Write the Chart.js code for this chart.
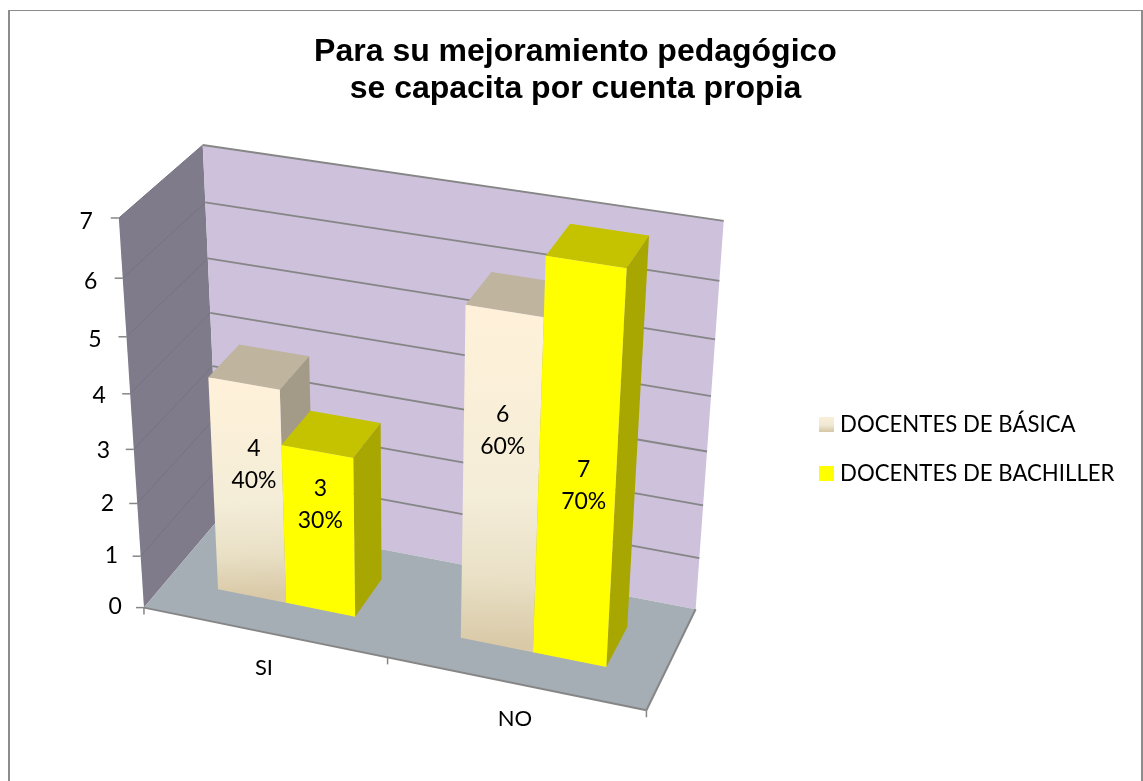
<!DOCTYPE html>
<html><head><meta charset="utf-8">
<style>html,body{margin:0;padding:0;background:#fff;overflow:hidden}
#frame{position:absolute;left:8px;top:10px;width:1135px;height:771px;box-sizing:border-box;border-left:2px solid #8c8c8c;border-top:1px solid #8c8c8c;border-right:2px solid #8c8c8c}
canvas{position:absolute;left:10px;top:11px}</style>
<script src="https://cdn.jsdelivr.net/npm/chart.js@4"></script>
</head><body><div id="frame"></div><canvas id="c" width="1131" height="770"></canvas>
<script>
const categories=['SI','NO'];
const seriesBasica=[4,6];
const seriesBachiller=[3,7];
const percentBasica=[40,60];
const percentBachiller=[30,70];
const seriesNames=['DOCENTES DE BÁSICA','DOCENTES DE BACHILLER'];
const valueTicks=[0,1,2,3,4,5,6,7];
const titleLines=['Para su mejoramiento pedagógico','se capacita por cuenta propia'];

const OX=10,OY=11;
// camera calibration of the 3D box: [u,v,w,pageX,pageY]
const calib=[[0,0,0,147,605],[1,0,0,647,713],[0.5,0,0,387,657],[0,0,1,216,523],[1,0,1,696,607],
[0,1,1,203,145],[1,1,1,724,221],[0,1,0,117,219],[0,6/7,0,122,279],[0,3/7,0,133,448],
[0,6/7,1,206,202],[0,5/7,1,209,257],[0,4/7,1,212,312],
[1,6/7,1,719,281],[1,5/7,1,715,340],[1,4/7,1,711,397],[1,3/7,1,707,452],[1,2/7,1,703,504],[1,1/7,1,699,557]];
function solveCamera(){
  const n=11,A=Array.from({length:n},()=>new Array(n+1).fill(0));
  const add=(r,t)=>{for(let i=0;i<n;i++){for(let j=0;j<n;j++)A[i][j]+=r[i]*r[j];A[i][n]+=r[i]*t;}};
  for(const [u,v,w,x0,y0] of calib){const x=x0/1000,y=y0/1000;
    add([1,u,v,w,0,0,0,0,-x*u,-x*v,-x*w],x);
    add([0,0,0,0,1,u,v,w,-y*u,-y*v,-y*w],y);}
  for(let c=0;c<n;c++){let p=c;for(let r=c+1;r<n;r++)if(Math.abs(A[r][c])>Math.abs(A[p][c]))p=r;
    [A[c],A[p]]=[A[p],A[c]];
    for(let r=0;r<n;r++){if(r===c)continue;const f=A[r][c]/A[c][c];for(let k=c;k<=n;k++)A[r][k]-=f*A[c][k];}}
  return A.map((row,i)=>row[n]/row[i]);
}
const K=solveCamera();
function P(u,v,w){const d=1+K[8]*u+K[9]*v+K[10]*w;
  return [1000*(K[0]+K[1]*u+K[2]*v+K[3]*w)/d-OX,1000*(K[4]+K[5]*u+K[6]*v+K[7]*w)/d-OY];}

const W0=0.305,W1=0.705;
const FONT='Lato',FS=22,FS_NUM=23,FS_LEG=22.2;
const labelHeightFraction=[[.63,.66],[.67,.46]];
const labelShiftX=[[7,1],[2,7]];
function quad(ctx,pts,fill){ctx.beginPath();pts.forEach((p,i)=>i?ctx.lineTo(p[0],p[1]):ctx.moveTo(p[0],p[1]));ctx.closePath();ctx.fillStyle=fill;ctx.fill();}
function line(ctx,a,b,col,lw){ctx.beginPath();ctx.moveTo(a[0],a[1]);ctx.lineTo(b[0],b[1]);ctx.strokeStyle=col;ctx.lineWidth=lw;ctx.stroke();}

const faces=[{top:'#BFB49E',side:'#A39B87'},{top:'#C5C300',side:'#A8A600'}];
const percents=[percentBasica,percentBachiller];
const scene={id:'scene',
 afterLayout(chart){const l=chart.legend;const cy=449-OY;const h=l.bottom-l.top;l.top=cy-h/2;l.bottom=cy+h/2;
   const w=l.right-l.left;const left=824-OX-chart.options.plugins.legend.labels.padding;l.left=left;l.right=left+w;},
 beforeDatasetsDraw(chart){
  const ctx=chart.ctx,a=chart.chartArea,sy=chart.scales.y,sx=chart.scales.x;
  quad(ctx,[P(0,0,0),P(0,1,0),P(0,1,1),P(0,0,1)],'#7F7B8B');
  quad(ctx,[P(0,0,1),P(0,1,1),P(1,1,1),P(1,0,1)],'#CDC1DB');
  quad(ctx,[P(0,0,0),P(1,0,0),P(1,0,1),P(0,0,1)],'#A6AEB5');
  ctx.textBaseline='middle';
  sy.ticks.forEach(t=>{const v=(a.bottom-sy.getPixelForValue(t.value))/a.height;
    if(t.value>0){line(ctx,P(0,v,0),P(0,v,1),'#767380',1);line(ctx,P(0,v,1),P(1,v,1),'#868686',1.8);}
    const p=P(0,v,0);line(ctx,p,[p[0]-8,p[1]],'#868686',1.5);
    ctx.fillStyle='#000';ctx.font=FS_NUM+'px '+FONT;ctx.textAlign='right';ctx.fillText(String(t.value),p[0]-22-4*v,p[1]-1+5*v);});
  line(ctx,P(0,0,0),P(1,0,0),'#868686',2);
  line(ctx,P(1,0,0),P(1,0,1),'#868686',2);
  [0,.5,1].forEach(u=>{const p=P(u,0,0);line(ctx,p,[p[0],p[1]+7],'#868686',1.5);});
  categories.forEach((c,i)=>{const u=(sx.getPixelForValue(i)-a.left)/a.width;const p=P(u,0,0);
    ctx.fillStyle='#000';ctx.font=FS+'px '+FONT;ctx.textAlign='center';ctx.fillText(c,p[0],p[1]+36);});
  chart.data.datasets.forEach((ds,di)=>{
   chart.getDatasetMeta(di).data.forEach((bar,j)=>{
    const u0=(bar.x-bar.width/2-a.left)/a.width,u1=(bar.x+bar.width/2-a.left)/a.width,v=(a.bottom-bar.y)/a.height;
    quad(ctx,[P(u0,v,W0),P(u1,v,W0),P(u1,v,W1),P(u0,v,W1)],faces[di].top);
    quad(ctx,[P(u1,0,W0),P(u1,v,W0),P(u1,v,W1),P(u1,0,W1)],faces[di].side);
    let fill=ds.backgroundColor;
    if(di===0){const t=P((u0+u1)/2,v,W0),b=P((u0+u1)/2,0,W0);const g=ctx.createLinearGradient(t[0],t[1],b[0],b[1]);
      g.addColorStop(0,'#FFF1D9');g.addColorStop(.55,'#F4EDD8');g.addColorStop(.8,'#E9E0C6');g.addColorStop(1,'#D9C9A7');fill=g;}
    quad(ctx,[P(u0,0,W0),P(u1,0,W0),P(u1,v,W0),P(u0,v,W0)],fill);
    const m=P((u0+u1)/2,v*labelHeightFraction[di][j],W0);
    ctx.fillStyle='#000';ctx.font=FS_NUM+'px '+FONT;ctx.textAlign='center';
    ctx.fillText(String(ds.data[j]),m[0]+labelShiftX[di][j],m[1]-16);ctx.fillText(percents[di][j]+'%',m[0]+labelShiftX[di][j],m[1]+16);
   });
  });
  return false;
 }};
function basGrad(ctx){const g=ctx.createLinearGradient(0,415-OY,0,432-OY);g.addColorStop(0,'#FDF0DA');g.addColorStop(.6,'#EFE8D3');g.addColorStop(1,'#D5C6A5');return g;}
const ctx=document.getElementById('c').getContext('2d');
new Chart(ctx,{type:'bar',
 data:{labels:categories,datasets:[
  {label:seriesNames[0],data:seriesBasica,backgroundColor:'#FFF1D9'},
  {label:seriesNames[1],data:seriesBachiller,backgroundColor:'#FFFF00'}]},
 plugins:[scene],
 options:{responsive:false,animation:false,
  layout:{padding:0},
  datasets:{bar:{categoryPercentage:0.572,barPercentage:1}},
  scales:{x:{display:false},y:{display:false,min:0,max:7,ticks:{stepSize:1}}},
  plugins:{tooltip:{enabled:false},
   title:{display:true,text:titleLines,color:'#000',font:{family:'Liberation Sans',size:32,weight:'bold',lineHeight:1.15},padding:{top:22.5,bottom:10}},
   legend:{position:'right',labels:{boxWidth:5,boxHeight:5,padding:27,color:'#000',font:{family:FONT,size:FS_LEG},
     generateLabels(chart){return chart.data.datasets.map((d,i)=>{const f=i?'#FFFF00':basGrad(chart.ctx);
       return {text:d.label,fillStyle:f,strokeStyle:f,lineWidth:10,datasetIndex:i,hidden:false};});}}}}}
});
</script></body></html>
